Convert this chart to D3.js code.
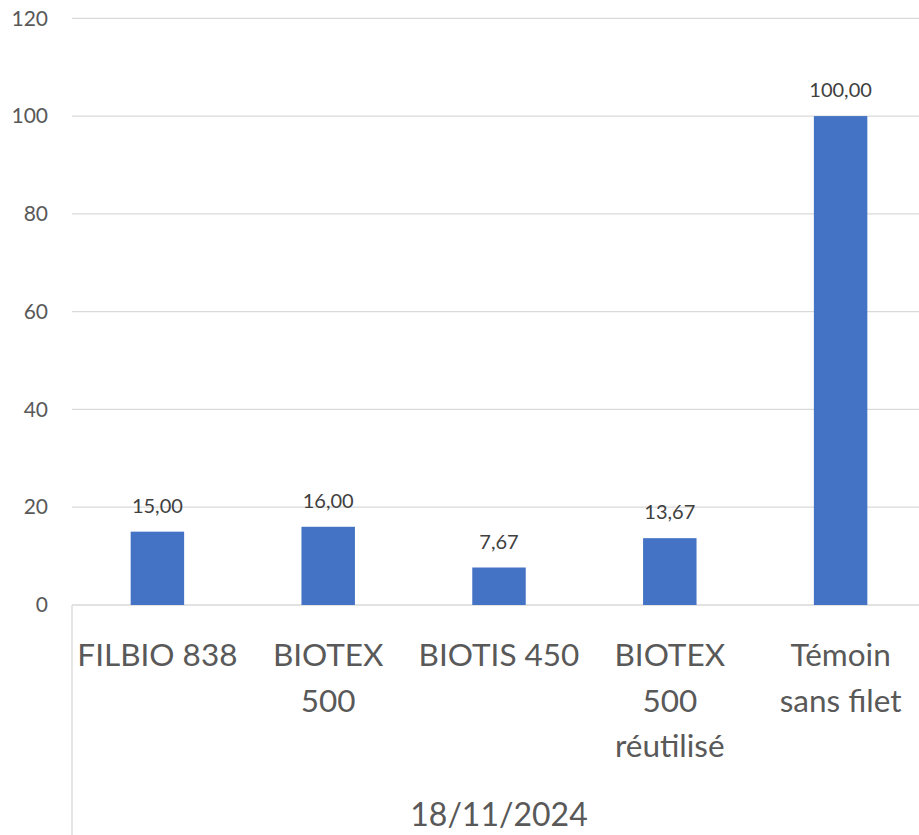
<!DOCTYPE html>
<html>
<head>
<style>
  body { margin: 0; background: #fff; }
  svg { display: block; font-family: Lato, "Open Sans", sans-serif; }
</style>
</head>
<body>
<script src="https://cdn.jsdelivr.net/npm/d3@7"></script>
<script>
const categories = ["FILBIO 838", "BIOTEX\n500", "BIOTIS 450", "BIOTEX\n500\nréutilisé", "Témoin\nsans filet"];
const values = [15.00, 16.00, 7.67, 13.67, 100.00];
const yTicks = [0, 20, 40, 60, 80, 100, 120];
const groupLabel = "18/11/2024";

const W = 919, H = 835;
const plotLeft = 72, plotRight = 926, plotTop = 18.3, plotBottom = 605;

const svg = d3.select("body").append("svg").attr("width", W).attr("height", H);

const x = d3.scaleBand().domain(categories).range([plotLeft, plotRight]).paddingInner(0.687).paddingOuter(0.3435);
const y = d3.scaleLinear().domain([0, 120]).range([plotBottom, plotTop]);

// gridlines
svg.append("g").selectAll("line").data(yTicks).join("line")
  .attr("x1", plotLeft).attr("x2", W)
  .attr("y1", d => y(d)).attr("y2", d => y(d))
  .attr("stroke", "#d9d9d9").attr("stroke-width", 1.3);

// y axis labels
const yAxis = d3.axisLeft(y).tickValues(yTicks).tickSize(0).tickPadding(0);
const ya = svg.append("g").attr("transform", `translate(48,0)`).call(yAxis);
ya.select(".domain").remove();
ya.selectAll("text").attr("font-size", 21).attr("fill", "#595959").attr("font-family", "Lato, sans-serif");

// bars
svg.append("g").selectAll("rect").data(values).join("rect")
  .attr("x", (d, i) => x(categories[i]))
  .attr("width", x.bandwidth())
  .attr("y", d => y(d))
  .attr("height", d => y(0) - y(d))
  .attr("fill", "#4472c4");

// value labels
svg.append("g").selectAll("text").data(values).join("text")
  .attr("x", (d, i) => x(categories[i]) + x.bandwidth() / 2)
  .attr("y", d => y(d) - 19)
  .attr("text-anchor", "middle")
  .attr("font-size", 20)
  .attr("fill", "#404040")
  .text(d => d.toFixed(2).replace(".", ","));

// category axis line at the left (multi-level)
svg.append("line")
  .attr("x1", plotLeft).attr("x2", plotLeft)
  .attr("y1", plotBottom).attr("y2", H)
  .attr("stroke", "#d9d9d9").attr("stroke-width", 1.3);

// category labels
const cat = svg.append("g").selectAll("text").data(categories).join("text")
  .attr("x", d => x(d) + x.bandwidth() / 2)
  .attr("y", 666)
  .attr("text-anchor", "middle")
  .attr("font-size", 31.5)
  .attr("fill", "#595959");
cat.selectAll("tspan").data(d => d.split("\n")).join("tspan")
  .attr("x", function () { return this.parentNode.getAttribute("x"); })
  .attr("dy", (d, i) => i === 0 ? 0 : 45.5)
  .text(d => d);

// group label
svg.append("text")
  .attr("x", (plotLeft + plotRight) / 2)
  .attr("y", 826)
  .attr("text-anchor", "middle")
  .attr("font-size", 32)
  .attr("fill", "#595959")
  .text(groupLabel);
</script>
</body>
</html>
